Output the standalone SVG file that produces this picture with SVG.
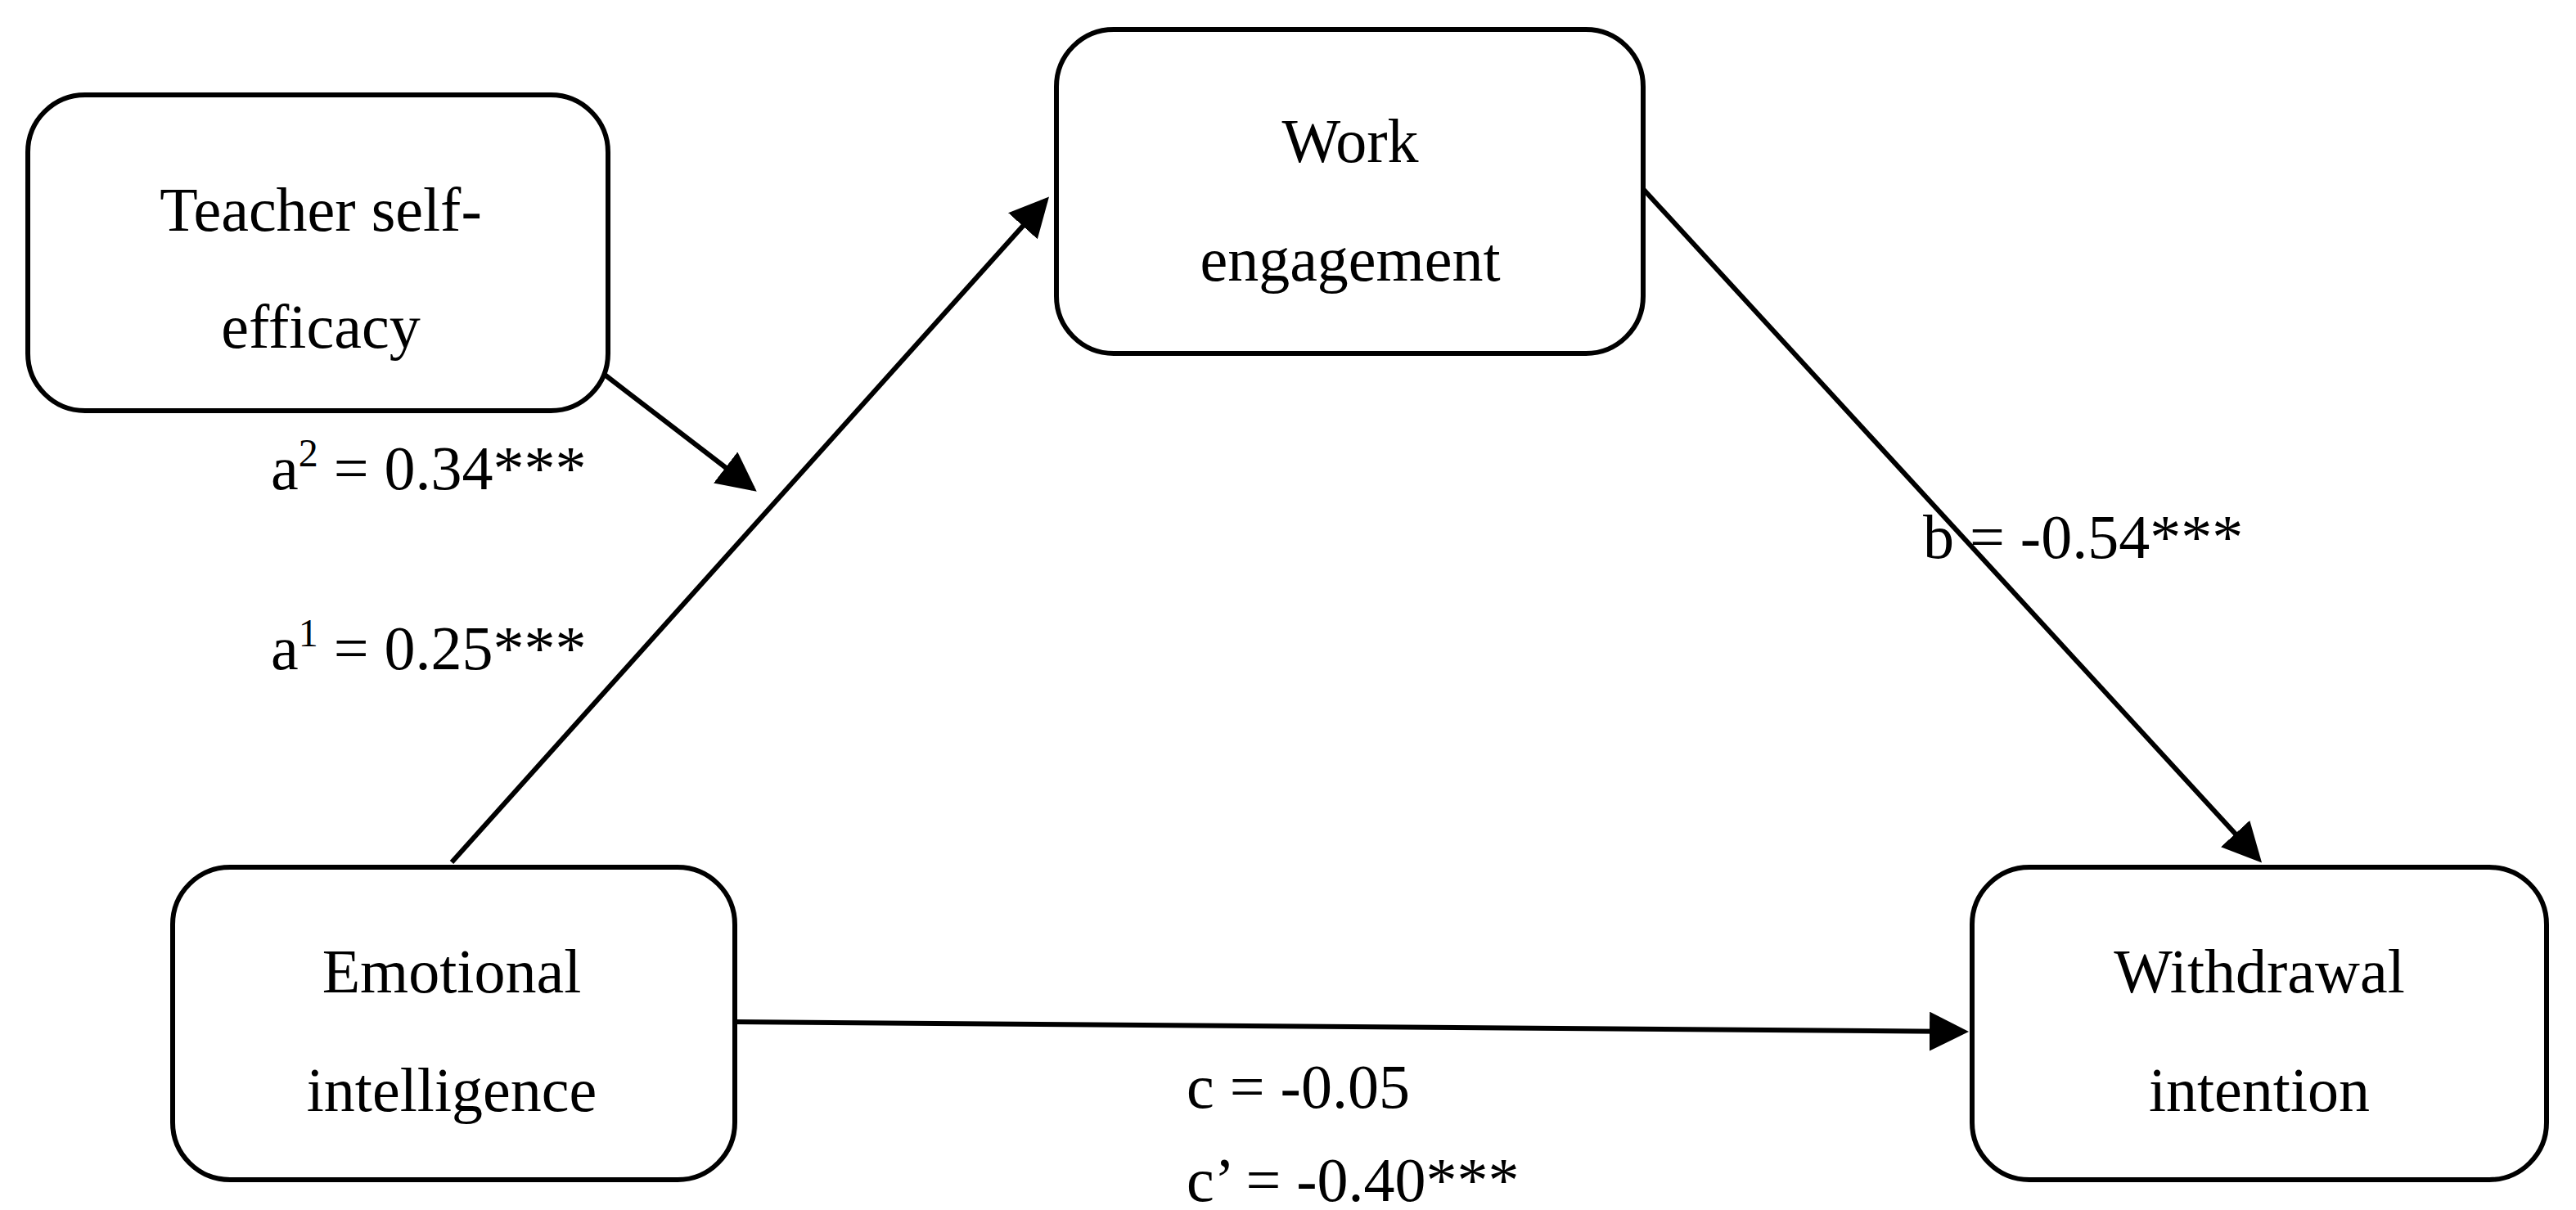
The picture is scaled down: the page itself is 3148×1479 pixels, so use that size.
<svg xmlns="http://www.w3.org/2000/svg" width="3148" height="1479" viewBox="0 0 3148 1479">
<style>
.box{fill:#fff;stroke:#000;stroke-width:6}
.t{font-family:"Liberation Serif",serif;font-size:76px;fill:#000}
.m{text-anchor:middle}
.ln{stroke:#000;stroke-width:6;fill:none;marker-end:url(#ah)}
</style>
<defs><marker id="ah" markerWidth="8" markerHeight="8" refX="7" refY="4" orient="auto" markerUnits="strokeWidth"><path d="M0,0 L8,4 L0,8 Z" fill="#000"/></marker></defs>
<rect width="3148" height="1479" fill="#fff"/>
<g id="connectors">
<line class="ln" x1="552" y1="1054" x2="1278" y2="245"/>
<line class="ln" x1="739" y1="458" x2="920" y2="597"/>
<line class="ln" x1="2008" y1="231" x2="2760" y2="1050"/>
<line class="ln" x1="898" y1="1249" x2="2400" y2="1261"/>
</g>
<g id="teacher"><rect class="box" x="34" y="116" width="709" height="386" rx="70"/><text class="t m" x="392" y="282">Teacher self-</text><text class="t m" x="392" y="425">efficacy</text></g>
<g id="work"><rect class="box" x="1291" y="36" width="717" height="396" rx="70"/><text class="t m" x="1650" y="198">Work</text><text class="t m" x="1650" y="343">engagement</text></g>
<g id="emotional"><rect class="box" x="211" y="1060" width="687" height="382" rx="70"/><text class="t m" x="552" y="1213">Emotional</text><text class="t m" x="552" y="1358">intelligence</text></g>
<g id="withdrawal"><rect class="box" x="2410" y="1060" width="702" height="382" rx="70"/><text class="t m" x="2761" y="1213">Withdrawal</text><text class="t m" x="2761" y="1358">intention</text></g>
<g id="labels">
<text class="t" x="331" y="598">a<tspan font-size="48" dy="-28">2</tspan><tspan dy="28"> = 0.34***</tspan></text>
<text class="t" x="331" y="818">a<tspan font-size="48" dy="-28">1</tspan><tspan dy="28"> = 0.25***</tspan></text>
<text class="t" x="2350" y="682">b = -0.54***</text>
<text class="t" x="1450" y="1354">c = -0.05</text>
<text class="t" x="1450" y="1468">c’ = -0.40***</text>
</g>
</svg>
